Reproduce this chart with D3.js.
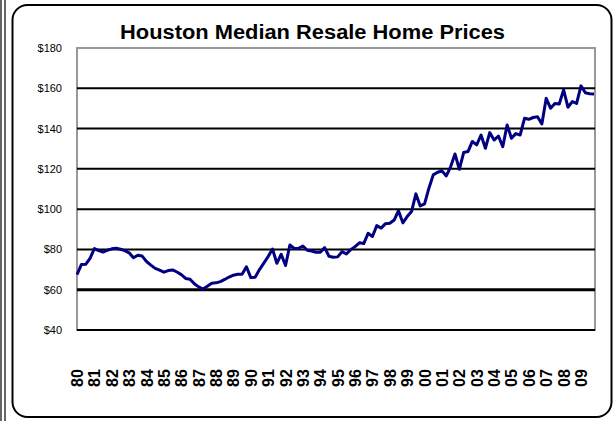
<!DOCTYPE html>
<html>
<head>
<meta charset="utf-8">
<script src="https://cdn.jsdelivr.net/npm/d3@7"></script>
<style>
  body { margin: 0; background: #fff; }
  svg { display: block; }
</style>
</head>
<body>
<svg id="chart" width="615" height="421"></svg>
<script>
var w = 615
var h = 421

var title = "Houston Median Resale Home Prices"

// quarterly medians, thousands of dollars
var prices = [67.5, 72.5, 72.6, 75.6, 80.4, 79.4, 78.7, 79.6, 80.3, 80.6,
              80.1, 79.4, 78.3, 75.9, 77.1, 76.7, 74.0, 72.2, 70.6, 69.7,
              68.7, 69.5, 69.8, 68.8, 67.5, 65.6, 65.2, 63.0, 61.4, 60.3,
              61.7, 63.2, 63.4, 64.0, 65.1, 66.3, 67.2, 67.7, 67.7, 71.4,
              66.0, 66.2, 70.0, 73.2, 76.5, 80.2, 73.1, 77.6, 72.0, 82.2,
              80.5, 80.5, 81.7, 79.6, 79.2, 78.6, 78.6, 80.9, 76.6, 76.1,
              76.3, 78.9, 77.7, 79.9, 81.4, 83.3, 82.9, 88.0, 86.4, 91.8,
              90.6, 92.8, 93.0, 94.6, 99.2, 93.2, 96.3, 98.8, 107.6, 101.6,
              102.6, 110.4, 117.0, 118.3, 119.0, 116.5, 121.0, 127.4, 119.8, 128.1,
              128.6, 133.6, 131.9, 136.8, 130.2, 138.0, 134.3, 136.3, 131.0, 141.8,
              135.2, 137.5, 136.8, 145.1, 144.6, 145.5, 145.9, 142.3, 155.0, 150.1,
              152.5, 152.2, 159.2, 150.6, 153.4, 152.5, 161.2, 157.8, 157.3, 157.2]

var years = ["80", "81", "82", "83", "84", "85", "86", "87", "88", "89",
             "90", "91", "92", "93", "94", "95", "96", "97", "98", "99",
             "00", "01", "02", "03", "04", "05", "06", "07", "08", "09"]

var yTicks = [40, 60, 80, 100, 120, 140, 160, 180]

// note: "top" is taken by window.top, so use plot* names
var plotL = 77, plotR = 595, plotT = 48, plotB = 330

var svg = d3.select("#chart")

// outer frame bits
svg.append("line").attr("x1", 1).attr("x2", 1).attr("y1", 0).attr("y2", h)
	.attr("stroke", "#000").attr("stroke-width", 1.2)
svg.append("line").attr("x1", 5).attr("x2", 5).attr("y1", 0).attr("y2", h)
	.attr("stroke", "#000").attr("stroke-width", 1.2)
svg.append("rect")
	.attr("x", 12.5).attr("y", 5)
	.attr("width", 599).attr("height", 412)
	.attr("rx", 15).attr("ry", 15)
	.attr("fill", "#fff")
	.attr("stroke", "#000")
	.attr("stroke-width", 2)

svg.append("text")
	.text(title)
	.attr("x", 120)
	.attr("y", 39)
	.attr("textLength", 385)
	.attr("lengthAdjust", "spacingAndGlyphs")
	.attr("font-family", "Liberation Sans, Arial, sans-serif")
	.attr("font-weight", "bold")
	.attr("font-size", "20px")
	.attr("fill", "#000")

var x = d3.scaleLinear().domain([0, prices.length - 1]).range([plotL, plotR - 1])
var y = d3.scaleLinear().domain([40, 180]).range([plotB, plotT])

// plot border
svg.append("rect")
	.attr("x", plotL).attr("y", plotT)
	.attr("width", plotR - plotL).attr("height", plotB - plotT)
	.attr("fill", "none")
	.attr("stroke", "#999")
	.attr("stroke-width", 2)

// gridlines
svg.selectAll(".grid")
	.data(yTicks.filter(function(d){ return d < 180 }))
	.enter()
	.append("line")
	.attr("class", "grid")
	.attr("x1", plotL).attr("x2", plotR)
	.attr("y1", function(d){ return y(d) })
	.attr("y2", function(d){ return y(d) })
	.attr("stroke", "#000")
	.attr("stroke-width", function(d){ return d == 60 ? 3 : 2 })

// y axis labels
var yAxis = d3.axisLeft(y)
	.tickValues(yTicks)
	.tickSize(0)
	.tickPadding(15)
	.tickFormat(function(d){ return "$" + d })

var yg = svg.append("g")
	.attr("transform", "translate(" + plotL + ",0)")
	.call(yAxis)
yg.select(".domain").remove()
yg.selectAll("text")
	.attr("font-family", "Liberation Sans, Arial, sans-serif")
	.attr("font-size", "11px")
	.attr("fill", "#000")

// x axis: one label every 4 quarters, rotated
var xg = svg.append("g")
xg.selectAll("text")
	.data(years)
	.enter()
	.append("text")
	.text(function(d){ return d })
	.attr("transform", function(d, i){ return "translate(" + (x(i * 4) + 6) + ",378) rotate(-90)" })
	.attr("text-anchor", "middle")
	.attr("font-family", "Liberation Sans, Arial, sans-serif")
	.attr("font-weight", "bold")
	.attr("font-size", "16px")
	.attr("fill", "#000")

var line = d3.line()
	.x(function(d, i){ return x(i) })
	.y(function(d){ return y(d) })

svg.append("path")
	.datum(prices)
	.attr("d", line)
	.attr("fill", "none")
	.attr("stroke", "#000080")
	.attr("stroke-width", 3)
	.attr("stroke-linejoin", "round")
</script>
</body>
</html>
